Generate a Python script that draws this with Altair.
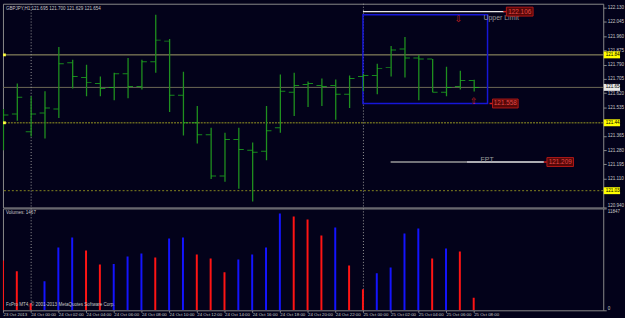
import altair as alt
import pandas as pd

# ---------------- data ----------------
bar_idx = list(range(35))
opens = [121.455, 121.496, 121.390, 121.502, 121.525, 121.801, 121.713, 121.678, 121.654, 121.736,
         121.660, 121.807, 121.930, 121.607, 121.443, 121.372, 121.126, 121.343, 121.279, 121.273,
         121.414, 121.625, 121.672, 121.666, 121.666, 121.613, 121.719, 121.725, 121.772, 121.883,
         121.830, 121.824, 121.625, 121.660, 121.695]
highs = [121.525, 121.678, 121.601, 121.631, 121.895, 121.819, 121.789, 121.719, 121.742, 121.830,
         121.819, 122.088, 121.942, 121.748, 121.543, 121.414, 121.384, 121.414, 121.326, 121.543,
         121.731, 121.742, 121.689, 121.707, 121.701, 121.725, 121.736, 121.795, 121.901, 121.954,
         121.848, 121.824, 121.777, 121.754, 121.700]
lows = [121.279, 121.455, 121.361, 121.349, 121.472, 121.648, 121.601, 121.601, 121.578, 121.590,
        121.642, 121.742, 121.507, 121.367, 121.320, 121.108, 121.091, 121.050, 120.973, 121.220,
        121.384, 121.484, 121.537, 121.543, 121.461, 121.531, 121.631, 121.613, 121.719, 121.713,
        121.578, 121.625, 121.601, 121.642, 121.629]
closes = [121.490, 121.596, 121.496, 121.531, 121.795, 121.719, 121.684, 121.648, 121.736, 121.660,
          121.807, 121.936, 121.607, 121.443, 121.372, 121.126, 121.343, 121.284, 121.267, 121.396,
          121.631, 121.666, 121.678, 121.660, 121.613, 121.707, 121.725, 121.766, 121.877, 121.830,
          121.824, 121.625, 121.654, 121.695, 121.654]
volumes = [5805, 4528, 813, 3367, 7314, 8475, 6966, 5341, 5390, 6270,
           6618, 6153, 8359, 8475, 6502, 6037, 4412, 5921, 6502, 7314,
           11262, 10913, 10565, 8708, 9636, 5224, 2438, 4296, 4992, 8940,
           9520, 6037, 7198, 6850, 1467]

time_tick_idx = list(range(0, 35, 2))
time_labels = ["23 Oct 2013", "24 Oct 00:00", "24 Oct 02:00", "24 Oct 04:00", "24 Oct 06:00",
               "24 Oct 08:00", "24 Oct 10:00", "24 Oct 12:00", "24 Oct 14:00", "24 Oct 16:00",
               "24 Oct 18:00", "24 Oct 20:00", "24 Oct 22:00", "25 Oct 00:00", "25 Oct 02:00",
               "25 Oct 04:00", "25 Oct 06:00", "25 Oct 08:00"]
# labels hidden behind the highlighted level boxes are left out
price_ticks = [122.130, 122.045, 121.960, 121.875, 121.790, 121.705, 121.620, 121.535,
               121.365, 121.280, 121.195, 121.110, 120.940]
vol_ticks = [0, 11847]
separator_idx = [2, 26]

hl_levels = [121.848, 121.654, 121.443, 121.038]
hl_labels = ["121.848", "121.654", "121.443", "121.038"]

# objects (time index / price anchors)
upper_limit = 122.106
lower_box = 121.558
fpt = 121.209
title_text = "GBPJPY,H1  121.695 121.700 121.629 121.654"

# ---------------- frames ----------------
df = pd.DataFrame({"i": bar_idx, "o": opens, "h": highs, "l": lows, "c": closes, "v": volumes})
df["dir"] = ["up" if k > 0 and volumes[k] > volumes[k - 1] else "down" for k in range(len(volumes))]

FONT = "Liberation Sans"
BG = "#03021a"
LBL = "#c8c8c8"
GRID = "#8a8a8a"

X = alt.Scale(domain=[0, 43.357], nice=False, zero=False)
Y = alt.Scale(domain=[120.938, 122.153], nice=False, zero=False)

main_axis = alt.Axis(orient="right", values=price_ticks, format=".3f", labelFont=FONT,
                     labelFontSize=4.6, labelColor=LBL, tickSize=3, tickColor=GRID,
                     domain=False, grid=False, labelPadding=1, title=None,
                     labelBaseline={"condition": {"test": "datum.value < 120.95", "value": "bottom"},
                                    "value": "middle"})


def xq(f):
    return alt.X(f, type="quantitative", scale=X, axis=None)


def yq(f):
    return alt.Y(f, type="quantitative", scale=Y, axis=main_axis)


base = alt.Chart(df)

wick = base.mark_rule(color="#1f901f", strokeWidth=1.3, xOffset=0.5, clip=True).encode(
    x=xq("i"), y=yq("l"), y2="h")
open_tick = base.mark_tick(orient="horizontal", size=5, thickness=1, color="#20c020",
                           xOffset=-2.5, clip=True).encode(x=xq("i"), y=yq("o"))
close_tick = base.mark_tick(orient="horizontal", size=5, thickness=1, color="#20c020",
                            xOffset=3, clip=True).encode(x=xq("i"), y=yq("c"))

hl_df = pd.DataFrame({"p": hl_levels, "lbl": hl_labels,
                      "kind": ["a", "bid", "b", "c"]})
h1 = alt.Chart(hl_df[hl_df.kind == "a"]).mark_rule(color="#a59f6a", strokeWidth=1).encode(y=yq("p"))
h2 = alt.Chart(hl_df[hl_df.kind == "bid"]).mark_rule(color="#6e6a55", strokeWidth=1).encode(y=yq("p"))
h3 = alt.Chart(hl_df[hl_df.kind == "b"]).mark_rule(color="#66661f", strokeWidth=1.6,
                                                   strokeDash=[2, 1]).encode(y=yq("p"))
h4 = alt.Chart(hl_df[hl_df.kind == "c"]).mark_rule(color="#86861f", strokeWidth=1,
                                                   strokeDash=[2, 2]).encode(y=yq("p"))
left_sq = alt.Chart(hl_df[hl_df.kind.isin(["a", "b"])]).mark_square(
    size=8, color="#ffff40", opacity=1).encode(x=alt.value(1.5), y=yq("p"))

sep_df = pd.DataFrame({"i": separator_idx})
sep_main = alt.Chart(sep_df).mark_rule(color="#9a9a9a", strokeDash=[1, 2], xOffset=0.5).encode(x=xq("i"))

# blue box
box_df = pd.DataFrame({"x0": [26], "x1": [35.0], "p0": [lower_box], "p1": [122.088]})
blue_box = alt.Chart(box_df).mark_rect(fillOpacity=0, stroke="#1616d8", strokeWidth=1.5).encode(
    x=xq("x0"), x2="x1", y=yq("p0"), y2="p1")

ul_df = pd.DataFrame({"x0": [26], "x1": [36.2], "p": [upper_limit]})
ul_line = alt.Chart(ul_df).mark_rule(color="#e6e6e6", strokeWidth=1.5).encode(
    x=xq("x0"), x2="x1", y=yq("p"))

fpt_df = pd.DataFrame({"x0": [28.0, 33.5], "x1": [33.5, 39.07], "p": [fpt, fpt], "seg": ["g", "w"]})
fpt_g = alt.Chart(fpt_df[fpt_df.seg == "g"]).mark_rule(color="#9a9a9a", strokeWidth=1.5).encode(
    x=xq("x0"), x2="x1", y=yq("p"))
fpt_w = alt.Chart(fpt_df[fpt_df.seg == "w"]).mark_rule(color="#e6e6e6", strokeWidth=1.5).encode(
    x=xq("x0"), x2="x1", y=yq("p"))

# red price boxes
rb_df = pd.DataFrame({"x0": [36.36, 35.36, 39.29], "x1": [38.29, 37.21, 41.21],
                      "p": [upper_limit, lower_box, fpt],
                      "lbl": ["122.106", "121.558", "121.209"]})
rb_df["xm"] = (rb_df.x0 + rb_df.x1) / 2
rb_df["xs"] = rb_df.x0 - 0.22
red_stub = alt.Chart(rb_df).mark_rule(color="#d02020", strokeWidth=1.5).encode(
    x=xq("xs"), x2="x0", y=yq("p"))
red_box = alt.Chart(rb_df).mark_rect(fill="#560808", stroke="#b01818", strokeWidth=1,
                                     yOffset=-4.5, y2Offset=4.5).encode(
    x=xq("x0"), x2="x1", y=yq("p"), y2="p")
red_txt = alt.Chart(rb_df).mark_text(font=FONT, fontSize=6.5, color="#e24848",
                                     baseline="middle", align="center").encode(
    x=xq("xm"), y=yq("p"), text="lbl")

# texts
lab_df = pd.DataFrame({"x": [34.71, 34.5], "p": [122.065, 121.221], "t": ["Upper Limit", "FPT"]})
labels = alt.Chart(lab_df).mark_text(font=FONT, fontSize=7, color="#9c9c9c", align="left",
                                     baseline="middle").encode(x=xq("x"), y=yq("p"), text="t")
arr_df = pd.DataFrame({"x": [32.9, 34.0], "p": [122.059, 121.575], "t": ["⇩", "⇧"]})
arrows = alt.Chart(arr_df).mark_text(font="DejaVu Sans", fontSize=9, color="#c82020",
                                     baseline="middle").encode(x=xq("x"), y=yq("p"), text="t")

title = alt.Chart(pd.DataFrame({"t": [title_text]})).mark_text(
    font=FONT, fontSize=4.6, color=LBL, align="left", baseline="middle").encode(
    x=alt.value(3), y=alt.value(5), text="t")

# right axis highlight boxes
hl_colors = alt.Scale(domain=["a", "bid", "b", "c"], range=["#ffff00", "#e8e8e8", "#ffff00", "#ffff00"])
ax_box = alt.Chart(hl_df).mark_rect(yOffset=-3.5, y2Offset=3.5, clip=False).encode(
    x=alt.value(607.5), x2=alt.value(624), y=yq("p"), y2="p",
    color=alt.Color("kind:N", scale=hl_colors, legend=None))
ax_txt = alt.Chart(hl_df).mark_text(font=FONT, fontSize=4.6, color="#000000", align="left",
                                    baseline="middle", clip=False).encode(
    x=alt.value(609.5), y=yq("p"), text="lbl")

main = alt.layer(
    h1, h2, h3, h4, sep_main, blue_box, ul_line, fpt_g, fpt_w,
    wick, open_tick, close_tick, labels, arrows, red_stub, red_box, red_txt,
    left_sq, title, ax_box, ax_txt,
).properties(width=607, height=206)

# ---------------- volume panel ----------------
label_expr = "[" + ",".join("'" + s + "'" for s in time_labels) + "][round(datum.value/2)]"
time_axis = alt.Axis(values=time_tick_idx, labelExpr=label_expr, labelAlign="left", labelFont=FONT,
                     labelFontSize=4.4, labelColor=LBL, tickSize=2, tickColor=GRID, domain=False,
                     grid=False, labelPadding=0, labelFlush=False, labelOverlap=False, title=None)
VS = alt.Scale(domain=[0, 11847], nice=False, zero=True)
vol_axis = alt.Axis(orient="right", values=vol_ticks, format="d", labelFont=FONT, labelFontSize=4.6,
                    labelColor=LBL, tickSize=3, tickColor=GRID, domain=False, grid=False,
                    labelPadding=1, title=None,
                    labelBaseline={"condition": {"test": "datum.value > 0", "value": "top"},
                                   "value": "bottom"})


def xv(f):
    return alt.X(f, type="quantitative", scale=X, axis=time_axis)


vol_bars = base.mark_rule(strokeWidth=2, clip=True).encode(
    x=xv("i"),
    y=alt.Y("v:Q", scale=VS, axis=vol_axis),
    y2=alt.datum(0),
    color=alt.Color("dir:N", scale=alt.Scale(domain=["up", "down"], range=["#1414ff", "#ff1414"]),
                    legend=None),
)
sep_vol = alt.Chart(sep_df).mark_rule(color="#9a9a9a", strokeDash=[1, 2], xOffset=0.5).encode(x=xv("i"))
vol_title = alt.Chart(pd.DataFrame({"t": ["Volumes: 1467"]})).mark_text(
    font=FONT, fontSize=4.6, color=LBL, align="left", baseline="middle").encode(
    x=alt.value(3), y=alt.value(5), text="t")
copy_txt = alt.Chart(pd.DataFrame({"t": ["FxPro MT4, © 2001-2013 MetaQuotes Software Corp."]})).mark_text(
    font=FONT, fontSize=4.6, color=LBL, align="left", baseline="middle").encode(
    x=alt.value(3), y=alt.value(98), text="t")

vol = alt.layer(sep_vol, vol_bars, vol_title, copy_txt).properties(width=607, height=103)

chart = alt.vconcat(main, vol, spacing=1, bounds="flush").properties(
    padding={"left": 1, "top": 1, "right": 0, "bottom": 0},
    background=BG,
).configure_view(stroke=GRID, strokeWidth=1, fill=BG).resolve_scale(color="independent")

chart.save("out.html", embed_options={"renderer": "svg", "actions": False})
